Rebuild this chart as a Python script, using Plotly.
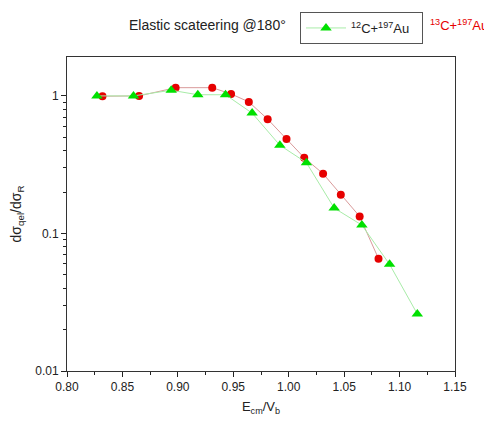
import plotly.graph_objects as go

# 12C+197Au (green triangles)
x_c12 = [0.827, 0.860, 0.894, 0.918, 0.943, 0.967, 0.992, 1.016, 1.041, 1.066, 1.091, 1.116]
y_c12 = [1.00, 1.00, 1.10, 1.02, 1.02, 0.75, 0.438, 0.327, 0.153, 0.115, 0.0596, 0.026]

# 13C+197Au (red circles)
x_c13 = [0.832, 0.865, 0.898, 0.931, 0.948, 0.964, 0.981, 0.998, 1.014, 1.031, 1.047, 1.064, 1.081]
y_c13 = [0.995, 1.00, 1.148, 1.148, 1.034, 0.905, 0.678, 0.486, 0.355, 0.272, 0.191, 0.133, 0.0656]

x_ticks = [0.80, 0.85, 0.90, 0.95, 1.00, 1.05, 1.10, 1.15]
x_tick_labels = ["0.80", "0.85", "0.90", "0.95", "1.00", "1.05", "1.10", "1.15"]
y_ticks = [0.01, 0.1, 1]
y_tick_labels = ["0.01", "0.1", "1"]
y_minor = [m * d for d in (0.01, 0.1, 1) for m in range(2, 10)]
x_minor = [0.825, 0.875, 0.925, 0.975, 1.025, 1.075, 1.125]

fig = go.Figure()
fig.add_trace(go.Scatter(
    x=x_c13, y=y_c13, mode="lines+markers",
    line=dict(color="#d99a9a", width=1),
    marker=dict(symbol="circle", size=8, color="#e60000"),
    showlegend=False, name="13C+197Au"))
fig.add_trace(go.Scatter(
    x=x_c12, y=y_c12, mode="lines+markers",
    line=dict(color="#a8eca8", width=1),
    marker=dict(symbol="triangle-up", size=10, color="#00e000"),
    name="<sup>12</sup>C+<sup>197</sup>Au\u00a0\u00a0"))

axis_font = dict(family="Liberation Sans, Arial", size=12, color="#222")
fig.update_layout(
    width=484, height=413,
    margin=dict(l=59, r=37, t=49, b=50, autoexpand=False),
    paper_bgcolor="white", plot_bgcolor="white",
    font=dict(family="Liberation Sans, Arial", size=12, color="#222"),
    legend=dict(x=(300-67)/388, y=1+(57-12)/314, xref="paper", yref="paper",
                xanchor="left", yanchor="top",
                bordercolor="#555", borderwidth=1, bgcolor="white",
                font=dict(size=13, color="#222"),
                itemwidth=40, tracegroupgap=0),
    xaxis=dict(range=[0.80, 1.15], tickvals=x_ticks, ticktext=x_tick_labels,
               ticks="outside", ticklen=5, tickwidth=1, tickcolor="#222",
               showline=True, linecolor="#333", linewidth=1, mirror=True,
               showgrid=False, zeroline=False, tickfont=axis_font, automargin=False,
               minor=dict(tickvals=x_minor, ticks="outside", ticklen=3, tickcolor="#222"),
               title=dict(text="E<sub>cm</sub>/V<sub>b</sub>", font=dict(size=13), standoff=8)),
    yaxis=dict(type="log", range=[-2, 0.283], tickvals=y_ticks, ticktext=y_tick_labels,
               ticks="outside", ticklen=5, tickwidth=1, tickcolor="#222",
               showline=True, linecolor="#333", linewidth=1, mirror=True,
               showgrid=False, zeroline=False, tickfont=axis_font, automargin=False,
               minor=dict(tickvals=y_minor, ticks="outside", ticklen=3, tickcolor="#222"),
               title=dict(text="dσ<sub>qel</sub>/dσ<sub>R</sub>", font=dict(size=14), standoff=14)),
)
fig.add_annotation(text="Elastic scateering @180°", xref="paper", yref="paper",
                   x=(288-67)/388, y=1+(57-25)/314, xanchor="right", yanchor="middle",
                   showarrow=False, font=dict(size=14, color="#222"))
fig.add_annotation(text="<sup>13</sup>C+<sup>197</sup>Au", xref="paper", yref="paper",
                   x=(490-67)/388, y=1+(57-25)/314, xanchor="right", yanchor="middle",
                   showarrow=False, font=dict(size=13, color="#e60000"))
fig.write_html("out.html")
